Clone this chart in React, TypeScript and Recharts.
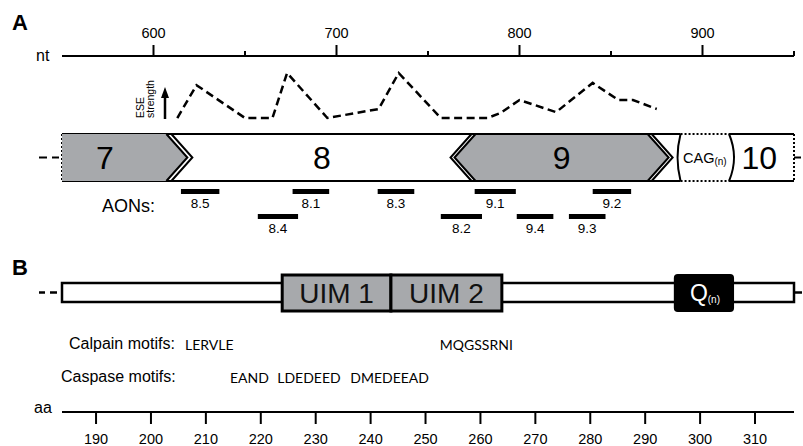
import React from 'react';
import { ComposedChart, Line, XAxis, YAxis, ReferenceArea, ReferenceDot } from 'recharts';

const FONT = '"Liberation Sans", Arial, Helvetica, sans-serif';
const SEQ_FONT = 'Lato, "Open Sans", sans-serif';
const INK = '#000';
const GRAY = '#a7a9ac';

// ---- panel A: nucleotide scale ----
const ntDomain = [550, 950];
const ntTicks = [600, 650, 700, 750, 800, 850, 900, 950];
const ntLabelled = [600, 700, 800, 900];

// ESE strength (arbitrary units, peak = 10)
const eseNt = [613, 623.5, 650, 665, 673, 695, 723, 734, 757, 782.5, 789.5, 800, 820, 840, 854, 862, 875];
const eseStrength = [0, 7.3, 0, 0, 10, 0, 2, 10, 0, 0, 1.1, 4, 1.3, 7.8, 4, 4, 2];

const exonNames = ['7', '8', '9', 'CAG', '10'];
const exonFrom = [550, 618.5, 764.5, 888, 914.5];
const exonTo = [618.5, 764.5, 881.5, 914.5, 950];
const exonLabelAt = [573.5, 692, 823, 901.3, 931];

const aonNames = ['8.5', '8.1', '8.3', '9.1', '9.2', '8.4', '8.2', '9.4', '9.3'];
const aonFrom = [615, 676, 722.5, 775.5, 840, 657, 757, 798.5, 827];
const aonTo = [636, 696, 742.5, 798, 861, 679, 779.5, 818.5, 847];
const aonRow = [1, 1, 1, 1, 1, 2, 2, 2, 2];

// ---- panel B: amino-acid scale ----
const aaDomain = [183.8, 317.1];
const aaTicks = [190, 200, 210, 220, 230, 240, 250, 260, 270, 280, 290, 300, 310];
const domainNames = ['UIM 1', 'UIM 2', 'Q'];
const domainFrom = [223.9, 243.7, 295.4];
const domainTo = [243.7, 263.9, 306];
const calpainMotifs = ['LERVLE', 'MQGSSRNI'];
const calpainAt = [206.2, 252.6];
const caspaseMotifs = ['EAND', 'LDEDEED', 'DMEDEEAD'];
const caspaseAt = [214.4, 223, 236.3];

// vertical lanes, px below the nt axis line
const LANE = {
  exonTop: 78,
  exonBottom: 125,
  exonMid: 101.5,
  aon1: 135.5,
  aon2: 160.5,
  boxTop: 219,
  boxBottom: 255,
  barTop: 227,
  barBottom: 246,
  calpain: 293.5,
  caspase: 326.5,
};

const eseData = eseNt.map((nt, i) => ({ nt, strength: eseStrength[i] }));

const NtTick = ({ x, y, payload }: any) => {
  const major = ntLabelled.includes(payload.value);
  return (
    <g>
      <line x1={x} x2={x} y1={y} y2={y - (major ? 11 : 5)} stroke={INK} strokeWidth={2} />
      {major && (
        <text x={x} y={y - 18} textAnchor="middle" fontSize={14.5} fontFamily={FONT} fill={INK}>
          {payload.value}
        </text>
      )}
    </g>
  );
};

const AaTick = ({ x, y, payload }: any) => (
  <g>
    <line x1={x} x2={x} y1={y} y2={y + 12} stroke={INK} strokeWidth={2} />
    <text x={x} y={y + 32} textAnchor="middle" fontSize={14.5} fontFamily={FONT} fill={INK}>
      {payload.value}
    </text>
  </g>
);

// outline of the exon strip
const frameShape = ({ x, y, width, height }: any) => {
  const r = x + width;
  const b = y + height;
  const mid = y + height / 2;
  return (
    <g stroke={INK} strokeWidth={2} fill="none">
      <line x1={x} x2={r} y1={y} y2={y} />
      <line x1={x} x2={r} y1={b} y2={b} />
      <line x1={x} x2={x} y1={y} y2={b} strokeDasharray="2 2" />
      <line x1={r} x2={r} y1={y} y2={b} strokeDasharray="2 2" />
      <line x1={x - 23} x2={x - 15} y1={mid} y2={mid} />
      <line x1={x - 10} x2={x - 3} y1={mid} y2={mid} />
      <line x1={r} x2={r + 7} y1={mid} y2={mid} />
    </g>
  );
};

const exonShape = (name: string) => ({ x, y, width, height }: any) => {
  const r = x + width;
  const b = y + height;
  const mid = y + height / 2;
  const tip = 21;
  if (name === '7') {
    return (
      <g>
        <polygon points={`${x},${y} ${r - tip},${y} ${r},${mid} ${r - tip},${b} ${x},${b}`} fill={GRAY} />
        <polyline points={`${r - tip},${y} ${r},${mid} ${r - tip},${b}`} fill="none" stroke={INK} strokeWidth={2} />
        <polyline points={`${r - tip + 5},${y} ${r + 5},${mid} ${r - tip + 5},${b}`} fill="none" stroke={INK} strokeWidth={2} />
      </g>
    );
  }
  if (name === '9') {
    return (
      <g>
        <polygon
          points={`${x},${mid} ${x + tip},${y} ${r - tip},${y} ${r},${mid} ${r - tip},${b} ${x + tip},${b}`}
          fill={GRAY}
          stroke={INK}
          strokeWidth={2}
        />
        <polyline points={`${x + tip - 4},${y} ${x - 4},${mid} ${x + tip - 4},${b}`} fill="none" stroke={INK} strokeWidth={2} />
        <polyline points={`${r - tip + 4},${y} ${r + 4},${mid} ${r - tip + 4},${b}`} fill="none" stroke={INK} strokeWidth={2} />
      </g>
    );
  }
  if (name === 'CAG') {
    return (
      <g>
        <rect x={x} y={y - 2} width={width} height={height + 4} fill="#fff" />
        <g stroke={INK} strokeWidth={2} fill="none">
          <line x1={x} x2={r} y1={y} y2={y} strokeDasharray="2 2" />
          <line x1={x} x2={r} y1={b} y2={b} strokeDasharray="2 2" />
          <path d={`M${x},${y} Q${x - 6},${mid} ${x},${b}`} />
          <path d={`M${r},${y} Q${r + 10},${mid} ${r},${b}`} />
        </g>
      </g>
    );
  }
  return <g />;
};

const exonLabel = (name: string) => ({ cx, cy }: any) =>
  name === 'CAG' ? (
    <text x={cx} y={cy + 5} textAnchor="middle" fontFamily={FONT} fill={INK}>
      <tspan fontSize={14.5}>CAG</tspan>
      <tspan fontSize={10} dy={2}>(n)</tspan>
    </text>
  ) : (
    <text x={cx} y={cy + 11.5} textAnchor="middle" fontSize={32} fontFamily={FONT} fill={INK}>
      {name}
    </text>
  );

const aonShape = (name: string) => ({ x, y, width, height }: any) => (
  <g>
    <rect x={x} y={y} width={width} height={height} fill={INK} />
    <text x={x + width / 2} y={y + height + 13.5} textAnchor="middle" fontSize={13.5} fontFamily={FONT} fill={INK}>
      {name}
    </text>
  </g>
);

const barShape = ({ x, y, width, height }: any) => {
  const r = x + width;
  const mid = y + height / 2;
  return (
    <g stroke={INK} strokeWidth={2.5}>
      <rect x={x} y={y} width={width} height={height} fill="#fff" />
      <line x1={x - 23} x2={x - 17} y1={mid} y2={mid} />
      <line x1={x - 12} x2={x - 5} y1={mid} y2={mid} />
      <line x1={r} x2={r + 8} y1={mid} y2={mid} />
    </g>
  );
};

const domainShape = (name: string) => ({ x, y, width, height }: any) => {
  const cx = x + width / 2;
  const mid = y + height / 2;
  if (name === 'Q') {
    return (
      <g>
        <rect x={x} y={y} width={width} height={height} rx={3} fill="#000" stroke={INK} strokeWidth={2} />
        <text x={cx + 1} y={mid + 8} textAnchor="middle" fontFamily={FONT} fill="#fff">
          <tspan fontSize={23}>Q</tspan>
          <tspan fontSize={10} dy={2}>(n)</tspan>
        </text>
      </g>
    );
  }
  return (
    <g>
      <rect x={x} y={y} width={width} height={height} fill={GRAY} stroke={INK} strokeWidth={3} />
      <text x={cx} y={mid + 10} textAnchor="middle" fontSize={28} fontFamily={FONT} fill="#111">
        {name}
      </text>
    </g>
  );
};

const motifText = (txt: string) => ({ cx, cy }: any) => (
  <text x={cx} y={cy} fontSize={14} fontFamily={SEQ_FONT} fill={INK}>
    {txt}
  </text>
);

const Overlay = () => (
  <svg width={803} height={446} style={{ position: 'absolute', left: 0, top: 0, pointerEvents: 'none' }}>
    <g fontFamily={FONT} fill={INK}>
      <text x={12} y={30} fontSize={22} fontWeight="bold">A</text>
      <text x={36} y={61} fontSize={16}>nt</text>
      <text transform="translate(144,118) rotate(-90)" fontSize={10.5}>ESE</text>
      <text transform="translate(154,118) rotate(-90)" fontSize={10.5}>strength</text>
      <line x1={165} x2={165} y1={119} y2={95} stroke={INK} strokeWidth={2.5} />
      <polygon points="165,87 161,98 169,98" />
      <text x={102} y={212} fontSize={18}>AONs:</text>
      <text x={12} y={275} fontSize={22} fontWeight="bold">B</text>
      <text x={69} y={349} fontSize={16}>Calpain motifs:</text>
      <text x={61} y={382} fontSize={16}>Caspase motifs:</text>
      <text x={34} y={413} fontSize={16}>aa</text>
    </g>
  </svg>
);

export default function App() {
  return (
    <div style={{ position: 'absolute', left: 0, top: 0, width: 803, height: 446, background: '#fff' }}>
      <ComposedChart width={803} height={446} margin={{ top: 26, right: 9, bottom: 0, left: 62 }}>
        <XAxis
          xAxisId="nt"
          dataKey="nt"
          type="number"
          orientation="top"
          domain={ntDomain}
          ticks={ntTicks}
          interval={0}
          tickSize={0}
          tickMargin={0}
          tickLine={false}
          tick={NtTick}
          axisLine={{ stroke: INK, strokeWidth: 2 }}
          height={30}
          allowDataOverflow
        />
        <XAxis
          xAxisId="aa"
          dataKey="aa"
          type="number"
          orientation="bottom"
          domain={aaDomain}
          ticks={aaTicks}
          interval={0}
          tickSize={0}
          tickMargin={0}
          tickLine={false}
          tick={AaTick}
          axisLine={{ stroke: INK, strokeWidth: 2 }}
          height={34}
          allowDataOverflow
        />
        <YAxis yAxisId="lane" hide type="number" domain={[0, 356]} reversed allowDataOverflow />
        <YAxis yAxisId="ese" hide type="number" domain={[-65.33, 13.78]} allowDataOverflow />

        <Line
          xAxisId="nt"
          yAxisId="ese"
          data={eseData}
          dataKey="strength"
          type="linear"
          stroke={INK}
          strokeWidth={2.5}
          strokeDasharray="8 4.5"
          dot={false}
          activeDot={false}
          isAnimationActive={false}
        />

        <ReferenceArea
          xAxisId="nt"
          yAxisId="lane"
          x1={ntDomain[0]}
          x2={ntDomain[1]}
          y1={LANE.exonTop}
          y2={LANE.exonBottom}
          ifOverflow="visible"
          shape={frameShape}
        />
        {exonNames.map((name, i) => (
          <ReferenceArea
            key={'ex' + name}
            xAxisId="nt"
            yAxisId="lane"
            x1={exonFrom[i]}
            x2={exonTo[i]}
            y1={LANE.exonTop}
            y2={LANE.exonBottom}
            ifOverflow="visible"
            shape={exonShape(name)}
          />
        ))}
        {exonNames.map((name, i) => (
          <ReferenceDot
            key={'exl' + name}
            xAxisId="nt"
            yAxisId="lane"
            x={exonLabelAt[i]}
            y={LANE.exonMid}
            r={1}
            ifOverflow="visible"
            shape={exonLabel(name)}
          />
        ))}
        {aonNames.map((name, i) => {
          const c = aonRow[i] === 1 ? LANE.aon1 : LANE.aon2;
          return (
            <ReferenceArea
              key={'aon' + name}
              xAxisId="nt"
              yAxisId="lane"
              x1={aonFrom[i]}
              x2={aonTo[i]}
              y1={c - 2.5}
              y2={c + 2.5}
              ifOverflow="visible"
              shape={aonShape(name)}
            />
          );
        })}

        <ReferenceArea
          xAxisId="aa"
          yAxisId="lane"
          x1={aaDomain[0]}
          x2={aaDomain[1]}
          y1={LANE.barTop}
          y2={LANE.barBottom}
          ifOverflow="visible"
          shape={barShape}
        />
        {domainNames.map((name, i) => (
          <ReferenceArea
            key={'dom' + name}
            xAxisId="aa"
            yAxisId="lane"
            x1={domainFrom[i]}
            x2={domainTo[i]}
            y1={LANE.boxTop}
            y2={LANE.boxBottom}
            ifOverflow="visible"
            shape={domainShape(name)}
          />
        ))}
        {calpainMotifs.map((m, i) => (
          <ReferenceDot
            key={'cal' + m}
            xAxisId="aa"
            yAxisId="lane"
            x={calpainAt[i]}
            y={LANE.calpain}
            r={1}
            ifOverflow="visible"
            shape={motifText(m)}
          />
        ))}
        {caspaseMotifs.map((m, i) => (
          <ReferenceDot
            key={'cas' + m}
            xAxisId="aa"
            yAxisId="lane"
            x={caspaseAt[i]}
            y={LANE.caspase}
            r={1}
            ifOverflow="visible"
            shape={motifText(m)}
          />
        ))}
      </ComposedChart>
      <Overlay />
    </div>
  );
}
